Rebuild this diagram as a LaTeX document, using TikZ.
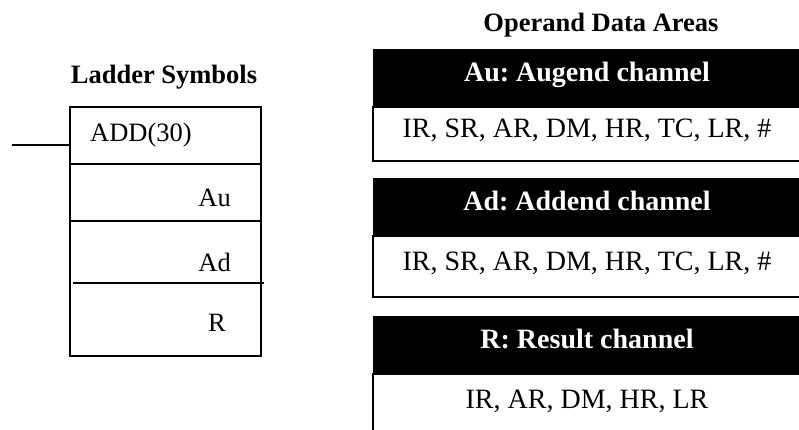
\documentclass[tikz,border=0pt]{standalone}
\usepackage{fontspec}
\setmainfont{Liberation Serif}
\usetikzlibrary{positioning}
\frenchspacing
\tikzset{
  title/.style={font=\fontsize{26.5}{30}\selectfont\bfseries},
  head/.style={fill=black, text=white, font=\fontsize{28}{32}\selectfont\bfseries,
    minimum width=428pt, minimum height=58pt, inner sep=0pt, outer sep=0pt,
    text height=19pt, text depth=12pt},
  area/.style={draw, line width=1.5pt, minimum width=428pt, inner sep=0pt, outer sep=0pt,
    font=\fontsize{28}{32}\selectfont, text height=19pt, text depth=12pt},
  ladbox/.style={draw, line width=1.6pt, minimum width=191pt, minimum height=249pt,
    inner sep=0pt, outer sep=0pt},
  operand/.style={inner sep=0pt}
}
\begin{document}
\begin{tikzpicture}[x=1pt, y=-1pt, font=\fontsize{26.5}{30}\selectfont]
    \useasboundingbox (0,0) rectangle (799,430);
    \clip (0,0) rectangle (799,430);
    % ladder symbol
    \node[title] (ladtitle) at (164,77) {Ladder Symbols};
    \node[ladbox] (lad) at (165.5,231.5) {};
    \node[operand, anchor=west] (addtxt) at (90,135) {ADD(30)};
    \node[operand, anchor=east] (autxt) at (231,198) {Au};
    \node[operand, anchor=east] (adtxt) at (231,262) {Ad};
    \node[operand, anchor=east] (rtxt) at (226,323) {R};
    \draw[line width=1.6pt] (lad.west |- 0,164) -- (lad.east |- 0,164);
    \draw[line width=1.6pt] (lad.west |- 0,221) -- (lad.east |- 0,221);
    \draw[line width=1.6pt] (73,283) -- (264,283);
    \coordinate (in) at (12,145);
    \draw[line width=1.6pt] (in) -- (lad.west |- in);
    % operand data areas
    \node[title] (optitle) at (601,25) {Operand Data Areas};
    \node[head] (auhead) at (587,78) {Au: Augend channel};
    \node[area, minimum height=54pt, below=0pt of auhead] (auarea) {IR, SR, AR, DM, HR, TC, LR, \#};
    \node[head, below=17pt of auarea] (adhead) {Ad: Addend channel};
    \node[area, minimum height=61pt, below=0pt of adhead] (adarea) {IR, SR, AR, DM, HR, TC, LR, \#};
    \node[head, below=19pt of adarea] (rhead) {R: Result channel};
    \node[area, minimum height=62pt, below=0pt of rhead] (rarea) {IR, AR, DM, HR, LR};
\end{tikzpicture}
\end{document}
